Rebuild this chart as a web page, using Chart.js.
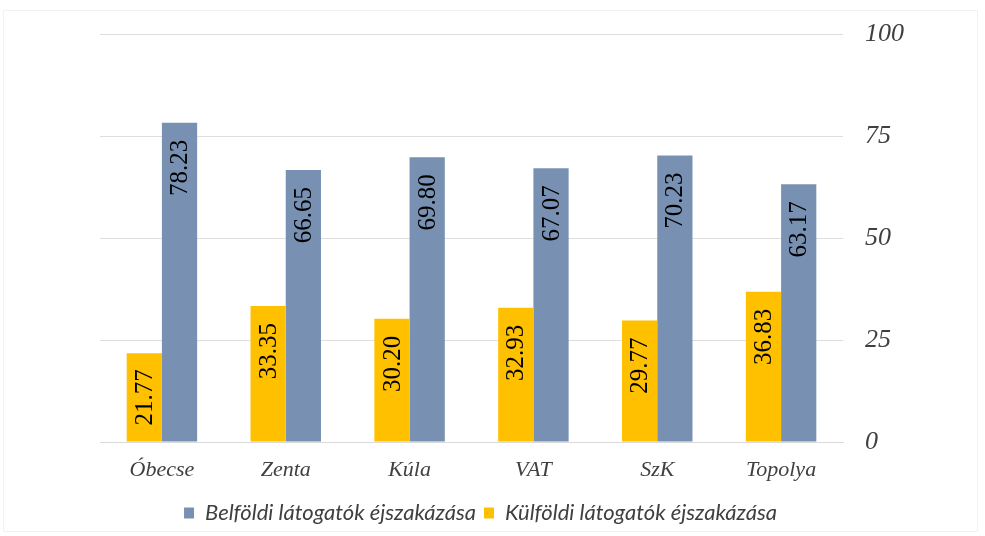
<!DOCTYPE html>
<html>
<head>
<meta charset="utf-8">
<script src="https://cdn.jsdelivr.net/npm/chart.js@4"></script>
<style>
  html, body { margin: 0; padding: 0; background: #ffffff; }
  #wrap { position: relative; width: 985px; height: 536px; }
  #frame { position: absolute; left: 3px; top: 10px; width: 975px; height: 522px; border: 1px solid #f2f2f2; box-sizing: border-box; pointer-events: none; }
</style>
</head>
<body>
<div id="wrap">
  <canvas id="c" width="985" height="536"></canvas>
  <div id="frame"></div>
</div>
<script>
const categories = ['Óbecse', 'Zenta', 'Kúla', 'VAT', 'SzK', 'Topolya'];
const kulfoldi = [21.77, 33.35, 30.20, 32.93, 29.77, 36.83];
const belfoldi = [78.23, 66.65, 69.80, 67.07, 70.23, 63.17];
const yTicks = [0, 25, 50, 75, 100];
const seriesNames = ['Külföldi látogatók éjszakázása', 'Belföldi látogatók éjszakázása'];

const labelPlugin = {
  id: 'rotLabels',
  afterDatasetsDraw(chart) {
    const ctx = chart.ctx;
    ctx.save();
    ctx.font = '25px "Liberation Serif"';
    ctx.fillStyle = '#000000';
    ctx.textBaseline = 'middle';
    chart.data.datasets.forEach((ds, di) => {
      const meta = chart.getDatasetMeta(di);
      meta.data.forEach((bar, i) => {
        const txt = ds.data[i].toFixed(2);
        const len = ctx.measureText(txt).width;
        const h = bar.base - bar.y;
        const off = Math.min(17, (h - len) / 2);
        ctx.save();
        ctx.translate(bar.x, bar.y + off);
        ctx.rotate(-Math.PI / 2);
        ctx.textAlign = 'right';
        ctx.fillText(txt, 0, 1);
        ctx.restore();
      });
    });
    ctx.restore();
  }
};

new Chart(document.getElementById('c'), {
  type: 'bar',
  data: {
    labels: categories,
    datasets: [
      { label: seriesNames[0], data: kulfoldi, backgroundColor: '#FFC000', borderWidth: 0, yAxisID: 'y' },
      { label: seriesNames[1], data: belfoldi, backgroundColor: '#7891B3', borderWidth: 0, yAxisID: 'y' }
    ]
  },
  options: {
    responsive: false,
    animation: false,
    devicePixelRatio: 1,
    layout: { padding: { left: 0, right: 24, top: 34, bottom: 2 } },
    datasets: { bar: { categoryPercentage: 0.569, barPercentage: 1.0 } },
    plugins: {
      tooltip: { enabled: false },
      legend: {
        position: 'bottom',
        reverse: true,
        labels: {
          font: { family: 'Lato', style: 'italic', size: 22 },
          color: '#404040',
          boxWidth: 10,
          boxHeight: 11,
          padding: 8,
          useBorderRadius: false
        }
      }
    },
    scales: {
      x: {
        grid: { display: false },
        border: { display: true, color: '#d9d9d9', width: 1, z: 1 },
        ticks: {
          font: { family: 'Liberation Serif', style: 'italic', size: 22 },
          color: '#404040',
          padding: 7
        },
        afterFit(scale) { scale.height = 52; }
      },
      yLeft: {
        position: 'left',
        display: true,
        min: 0,
        max: 100,
        grid: { display: false },
        border: { display: false },
        ticks: { display: false },
        afterFit(scale) { scale.width = 100; }
      },
      y: {
        position: 'right',
        min: 0,
        max: 100,
        z: 1,
        afterBuildTicks(scale) { scale.ticks = yTicks.map(v => ({ value: v })); },
        grid: { color: 'rgba(0,0,0,0.13)', drawTicks: false, lineWidth: 1 },
        border: { display: false },
        ticks: {
          font: { family: 'Liberation Serif', style: 'italic', size: 26, lineHeight: 1 },
          color: '#404040',
          padding: 22
        },
        afterFit(scale) { scale.width = 118; scale.paddingTop = 0; scale.paddingBottom = 0; }
      }
    }
  },
  plugins: [labelPlugin]
});
</script>
</body>
</html>
